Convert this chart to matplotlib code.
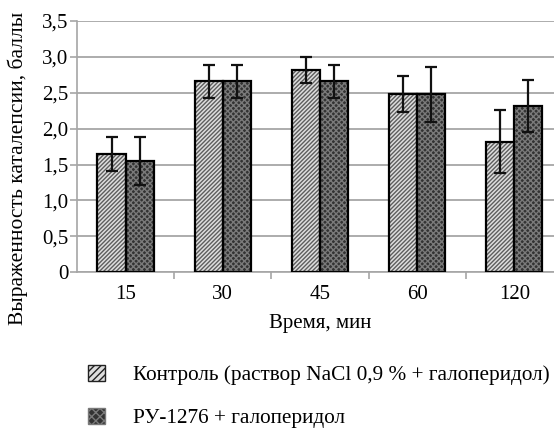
import numpy as np
import matplotlib
matplotlib.use("Agg")
import matplotlib.pyplot as plt
from matplotlib.patches import Patch

plt.rcParams['font.family'] = ['Liberation Serif', 'DejaVu Serif']

# data
time_labels = ["15", "30", "45", "60", "120"]
control_mean = [1.65, 2.66, 2.82, 2.48, 1.82]
control_err = [0.24, 0.23, 0.18, 0.25, 0.44]
ru_mean = [1.55, 2.66, 2.66, 2.48, 2.32]
ru_err = [0.34, 0.23, 0.23, 0.38, 0.36]
legend_labels = ["Контроль (раствор NaCl 0,9 % + галоперидол)",
                 "РУ-1276 + галоперидол"]

fs = 15
grid_col = "#a6a6a6"
ctrl_face, ctrl_hatch = "#dedede", "#5e5e5e"
ru_face, ru_hatch = "#333333", "#7a7a7a"

fig = plt.figure(figsize=(5.54, 4.32), dpi=100)
# axes runs past the right edge, as in the cropped original
ax = fig.add_axes([0.139, 0.3697, 0.877, 0.5817])

x = np.arange(len(time_labels))
w = 0.29

# hatched fills first, then black outlines on top
ax.bar(x - w/2, control_mean, w, color=ctrl_face, edgecolor=ctrl_hatch,
       hatch="////////", linewidth=0, zorder=2)
ax.bar(x + w/2, ru_mean, w, color=ru_face, edgecolor=ru_hatch,
       hatch="xxxxxx", linewidth=0, zorder=2)
ax.bar(x - w/2, control_mean, w, fill=False, edgecolor="black", linewidth=1.6, zorder=3)
ax.bar(x + w/2, ru_mean, w, fill=False, edgecolor="black", linewidth=1.6, zorder=3)

ax.errorbar(x - w/2, control_mean, yerr=control_err, fmt="none", ecolor="#111111",
            elinewidth=1.6, capsize=4, capthick=1.6, zorder=4)
ax.errorbar(x + w/2, ru_mean, yerr=ru_err, fmt="none", ecolor="#111111",
            elinewidth=1.6, capsize=4, capthick=1.6, zorder=4)

ax.set_xlim(-0.5, len(time_labels) - 0.5)
ax.set_ylim(0, 3.5)
ax.set_yticks(np.arange(0, 3.51, 0.5))
ax.set_yticklabels(["0"] + [f"{v:.1f}".replace(".", ",") for v in np.arange(0.5, 3.51, 0.5)])
ax.yaxis.grid(True, color=grid_col, linewidth=1.3, zorder=0)
ax.set_axisbelow(True)

# category labels at centres, ticks at boundaries
ax.set_xticks(x)
ax.set_xticklabels(time_labels)
ax.set_xticks(np.arange(0.5, len(time_labels) - 0.5, 1), minor=True)
ax.tick_params(axis="x", which="major", length=0, pad=9)
ax.tick_params(axis="x", which="minor", length=5, color=grid_col, width=1.2)
ax.tick_params(axis="y", length=5, color=grid_col, width=1.2, pad=1)
ax.tick_params(labelsize=fs)

for s in ["top", "right"]:
    ax.spines[s].set_visible(False)
for s in ["left", "bottom"]:
    ax.spines[s].set_color(grid_col)
    ax.spines[s].set_linewidth(1.2)

ax.set_xlabel("Время, мин", fontsize=fs)
ax.xaxis.set_label_coords((320 - 77) / 486, -0.165)
ax.set_ylabel("Выраженность каталепсии, баллы", fontsize=15.5)
ax.yaxis.set_label_coords(-0.1, 0.414)

handles = [Patch(facecolor=ctrl_face, edgecolor="#222222", hatch="/////"),
           Patch(facecolor=ru_face, edgecolor=ru_hatch, hatch="xxxx")]
fig.legend(handles, legend_labels, loc="upper left", bbox_to_anchor=(0.125, 0.2),
           frameon=False, fontsize=15.3, handlelength=0.8, handleheight=0.8,
           handletextpad=1.3, labelspacing=1.05)

fig.savefig("out.png", dpi=100)
